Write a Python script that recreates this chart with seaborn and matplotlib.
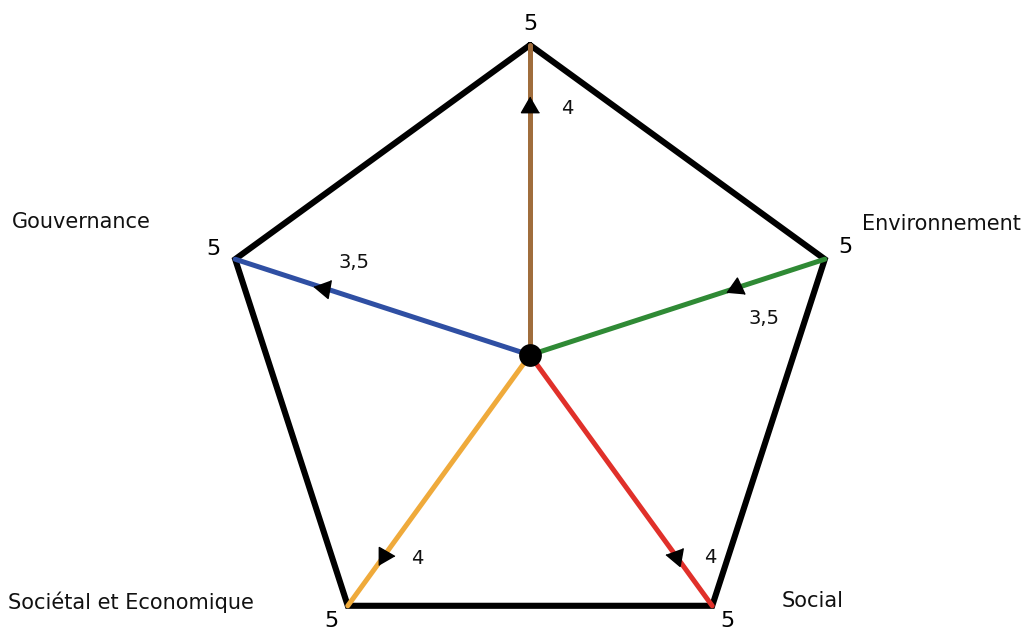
import numpy as np
import pandas as pd
import seaborn as sns
import matplotlib.pyplot as plt

categories = ["", "Environnement", "Social", "Sociétal et Economique", "Gouvernance"]
scores = [4, 3.5, 4, 4, 3.5]
score_labels = ["4", "3,5", "4", "4", "3,5"]
max_score = 5
spoke_colors = ["#a06d3c", "#2f8a35", "#e0302a", "#efaa3b", "#2f4fa3"]
angles_deg = [90, 18, -54, -126, 162]
# direction the little arrow heads point to (degrees)
arrow_dir = [90, -35, 170, 0, 170]


def tri(a):
    a = np.radians(a)
    return [(np.cos(a + k * 2 * np.pi / 3), np.sin(a + k * 2 * np.pi / 3)) for k in range(3)]


def main():
    sns.set_theme(style="white")
    plt.rcParams['font.family'] = ['DejaVu Sans']

    ang = np.radians(angles_deg)
    vx = max_score * np.cos(ang)
    vy = max_score * np.sin(ang)

    fig = plt.figure(figsize=(10.34, 6.35), dpi=100)
    ax = fig.add_axes([0, 0, 1, 1])
    ax.set_xlim(-530 / 62, 504 / 62)
    ax.set_ylim(-280 / 62, 355 / 62)
    ax.set_aspect("equal")
    ax.axis("off")

    outline = pd.DataFrame({"x": list(vx) + [vx[0]], "y": list(vy) + [vy[0]]})
    sns.lineplot(data=outline, x="x", y="y", sort=False, estimator=None,
                 color="black", linewidth=4.4, ax=ax,
                 solid_joinstyle="miter", zorder=2)

    for i in range(len(categories)):
        spoke = pd.DataFrame({"x": [0, vx[i]], "y": [0, vy[i]]})
        sns.lineplot(data=spoke, x="x", y="y", sort=False, estimator=None,
                     color=spoke_colors[i], linewidth=3.6, ax=ax, zorder=3)

    pts = pd.DataFrame({"x": np.array(scores) * np.cos(ang),
                        "y": np.array(scores) * np.sin(ang)})
    for i in range(len(categories)):
        ax.plot(pts.x[i], pts.y[i], marker=tri(arrow_dir[i]), markersize=15,
                color="black", linestyle="none", zorder=5)

    sns.scatterplot(x=[0], y=[0], color="black", s=230, ax=ax, zorder=6,
                    edgecolor="black")

    # max value "5" at each vertex
    five_off = [(0, 15), (15, 9), (11, -11), (-12, -11), (-16, 7)]
    for i in range(len(categories)):
        ax.annotate(str(max_score), (vx[i], vy[i]), xytext=five_off[i],
                    textcoords="offset points", ha="center", va="center",
                    fontsize=16, color="black")

    # score labels near arrows
    val_off = [(27, -1), (20, -22), (25, -1), (24, -2), (22, 18)]
    for i in range(len(categories)):
        ax.annotate(score_labels[i], (pts.x[i], pts.y[i]), xytext=val_off[i],
                    textcoords="offset points", ha="center", va="center",
                    fontsize=14, color="#111111")

    # category names
    name_pos = [None, (862, 224), (782, 601), (8, 602), (12, 222)]
    for i in range(len(categories)):
        if name_pos[i] is None:
            continue
        px, py = name_pos[i]
        fig.text(px / 1034, 1 - py / 635, categories[i], ha="left", va="center",
                 fontsize=15, color="#111111")

    plt.savefig("out.png", dpi=100)


main()
